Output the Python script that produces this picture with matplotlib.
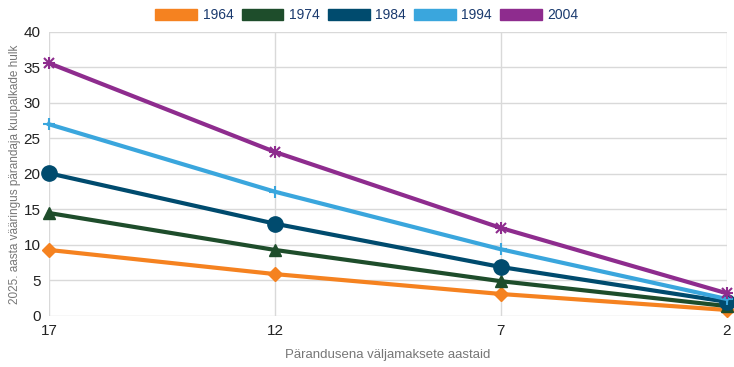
import matplotlib.pyplot as plt
from matplotlib.patches import Patch

plt.rcParams['font.family'] = ['Liberation Sans', 'DejaVu Sans']

years_left = ['17', '12', '7', '2']
series_names = ['1964', '1974', '1984', '1994', '2004']
v1964 = [9.3, 5.9, 3.1, 0.85]
v1974 = [14.5, 9.3, 4.9, 1.4]
v1984 = [20.1, 13.0, 6.9, 2.0]
v1994 = [27.0, 17.5, 9.4, 2.4]
v2004 = [35.6, 23.1, 12.4, 3.2]

colors = ['#f58220', '#1e4d2b', '#004b6e', '#3aa6dd', '#8e2c8e']
markers = ['D', '^', 'o', '+', 'x']
msizes = [7, 8, 11, 8, 7]

fig = plt.figure(figsize=(7.34, 3.67), dpi=100)
ax = fig.add_axes([0.0668, 0.139, 0.9232, 0.774])

x = list(range(len(years_left)))
all_vals = [v1964, v1974, v1984, v1994, v2004]
for vals, c, m, ms in zip(all_vals, colors, markers, msizes):
    ax.plot(x, vals, color=c, lw=3, marker=m, ms=ms, mew=1.5 if m in '+x' else 1.0,
            markeredgecolor=c, zorder=3, clip_on=False)
# asterisk look for 2004: add a plus on top of the x
ax.plot(x, v2004, ls='none', marker='+', ms=9, mew=1.5, color=colors[4], zorder=4, clip_on=False)

ax.set_xlim(0, len(years_left) - 1)
ax.set_ylim(0, 40)
ax.set_xticks(x)
ax.set_xticklabels(years_left)
ax.set_yticks(range(0, 41, 5))
ax.grid(True, color='#d9d9d9', lw=1)
ax.set_axisbelow(True)
for s in ax.spines.values():
    s.set_visible(False)
ax.tick_params(length=0, labelsize=11, colors='#222222', pad=6)

ax.set_xlabel('Pärandusena väljamaksete aastaid', color='#777777', fontsize=9.5, labelpad=8)
ax.set_ylabel('2025. aasta vääringus pärandaja kuupalkade hulk', color='#777777', fontsize=8.5)
ax.yaxis.set_label_coords(-0.042, 0.5)

handles = [Patch(facecolor=c, edgecolor=c) for c in colors]
fig.legend(handles, series_names, loc='center', bbox_to_anchor=(0.5, 0.958), ncol=5,
           frameon=False, fontsize=10, handlelength=3.0, handleheight=0.9,
           columnspacing=0.6, handletextpad=0.4, labelcolor='#1a3a6e')

fig.savefig('out.png', dpi=100)
